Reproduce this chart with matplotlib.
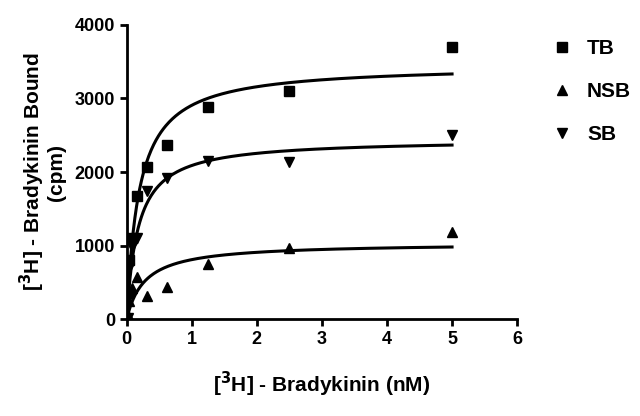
import numpy as np
import matplotlib.pyplot as plt

plt.rcParams["font.family"] = ["Liberation Sans", "DejaVu Sans"]
plt.rcParams["font.weight"] = "bold"
plt.rcParams["axes.labelweight"] = "bold"
plt.rcParams["mathtext.default"] = "bf"

# [3H]-bradykinin concentration (nM)
conc = [0.0195, 0.039, 0.078, 0.156, 0.3125, 0.625, 1.25, 2.5, 5.0]

# bound (cpm)
tb = [350, 800, 1100, 1680, 2070, 2370, 2880, 3100, 3700]
nsb = [60, 250, 420, 570, 320, 430, 750, 960, 1190]
sb = [20, 700, 980, 1100, 1740, 1920, 2150, 2140, 2510]

# one-site fit curves as drawn in the figure: Bmax (cpm), Kd (nM)
names = ["TB", "NSB", "SB"]
markers = ["s", "^", "v"]
fit_bmax = [3460, 1035, 2448]
fit_kd = [0.19, 0.28, 0.172]

fig = plt.figure(figsize=(6.4, 4.16), dpi=100)
ax = fig.add_axes([0.198, 0.233, 0.61, 0.707])

xs = np.linspace(0, 5, 400)
for name, vals, mk, bmax, kd in zip(names, [tb, nsb, sb], markers,
                                    fit_bmax, fit_kd):
    ax.plot(conc, vals, linestyle="none", marker=mk, color="black",
            markersize=7, label=name)
    ax.plot(xs, bmax * xs / (kd + xs), color="black", linewidth=2.2)

ax.set_xlim(0, 6)
ax.set_ylim(0, 4000)
ax.set_xticks(range(0, 7))
ax.set_yticks([0, 1000, 2000, 3000, 4000])
ax.spines["top"].set_visible(False)
ax.spines["right"].set_visible(False)
ax.spines["left"].set_linewidth(2)
ax.spines["bottom"].set_linewidth(2)
ax.tick_params(width=2, length=5, labelsize=13)

ax.set_xlabel("[$^3$H] - Bradykinin (nM)", fontsize=15, fontweight="bold",
              labelpad=16)
ax.set_ylabel("[$^3$H] - Bradykinin Bound\n(cpm)", fontsize=15,
              fontweight="bold", labelpad=6, linespacing=1.0)

ax.legend(loc="upper left", bbox_to_anchor=(1.035, 1.015), frameon=False,
          fontsize=15, handletextpad=0.6, labelspacing=1.15,
          handlelength=1.2)

fig.savefig("out.png", dpi=100)
